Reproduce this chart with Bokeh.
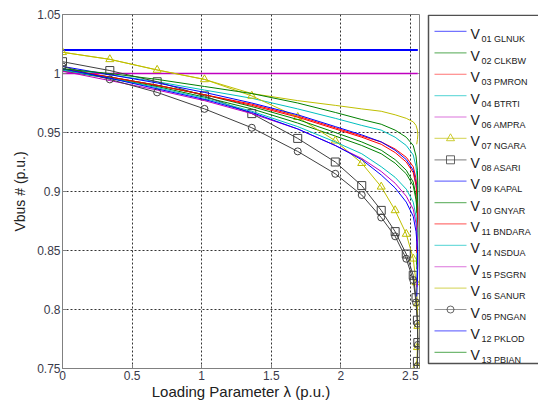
from bokeh.plotting import figure
from bokeh.models import Range1d, FixedTicker, CustomJSTickFormatter
from bokeh.layouts import row
from bokeh.embed import file_html
from bokeh.resources import INLINE
from bokeh.core.properties import value

# Loading parameter steps (continuation power flow)
lam = [0, 0.34, 0.68, 1.02, 1.36, 1.69, 1.96, 2.15, 2.29, 2.39, 2.47, 2.52, 2.54, 2.55, 2.553, 2.55, 2.545]

v01_glnuk = [1.02, 1.02, 1.02, 1.02, 1.02, 1.02, 1.02, 1.02, 1.02, 1.02, 1.02, 1.02, 1.02, 1.02, 1.02, 1.02, 1.02]
v02_clkbw = [1.002, 0.996, 0.989, 0.980, 0.970, 0.958, 0.947, 0.939, 0.932, 0.924, 0.915, 0.905, 0.893, 0.879, 0.863, 0.848, 0.834]
v03_pmron = [1.003, 0.997, 0.990, 0.982, 0.974, 0.964, 0.954, 0.947, 0.942, 0.936, 0.929, 0.921, 0.911, 0.899, 0.885, 0.871, 0.858]
v04_btrti = [1.004, 0.999, 0.993, 0.986, 0.979, 0.970, 0.962, 0.956, 0.952, 0.946, 0.939, 0.931, 0.921, 0.909, 0.895, 0.882, 0.870]
v06_ampra = [1.0, 1.0, 1.0, 1.0, 1.0, 1.0, 1.0, 1.0, 1.0, 1.0, 1.0, 1.0, 1.0, 1.0, 1.0, 1.0, 1.0]
v07_ngara = [1.018, 1.012, 1.003, 0.995, 0.981, 0.963, 0.943, 0.924, 0.904, 0.884, 0.864, 0.843, 0.823, 0.805, 0.786, 0.768, 0.752]
v08_asari = [1.010, 1.0025, 0.993, 0.981, 0.966, 0.945, 0.925, 0.905, 0.884, 0.866, 0.847, 0.829, 0.810, 0.791, 0.772, 0.756, 0.740]
v09_kapal = [1.006, 0.999, 0.992, 0.984, 0.975, 0.965, 0.955, 0.948, 0.942, 0.935, 0.927, 0.918, 0.907, 0.894, 0.879, 0.865, 0.851]
v10_gnyar = [1.003, 0.997, 0.990, 0.982, 0.972, 0.961, 0.950, 0.942, 0.935, 0.927, 0.918, 0.908, 0.896, 0.882, 0.867, 0.852, 0.838]
v11_bndara = [1.004, 0.997, 0.990, 0.982, 0.973, 0.963, 0.953, 0.946, 0.940, 0.933, 0.925, 0.916, 0.905, 0.892, 0.877, 0.862, 0.848]
v14_nsdua = [1.003, 0.996, 0.988, 0.979, 0.968, 0.955, 0.942, 0.932, 0.921, 0.912, 0.902, 0.891, 0.879, 0.866, 0.851, 0.837, 0.824]
v15_psgrn = [1.002, 0.994, 0.986, 0.977, 0.966, 0.953, 0.939, 0.928, 0.917, 0.907, 0.896, 0.885, 0.873, 0.860, 0.846, 0.832, 0.819]
v16_sanur = [1.018, 1.012, 1.003, 0.995, 0.983, 0.977, 0.973, 0.970, 0.968, 0.965, 0.962, 0.959, 0.956, 0.952, 0.948, 0.944, 0.940]
v05_pngan = [1.006, 0.995, 0.984, 0.970, 0.954, 0.934, 0.915, 0.897, 0.878, 0.862, 0.843, 0.825, 0.806, 0.788, 0.770, 0.752, 0.735]
v12_pklod = [1.004, 0.996, 0.987, 0.978, 0.967, 0.953, 0.939, 0.927, 0.914, 0.903, 0.891, 0.879, 0.866, 0.852, 0.838, 0.824, 0.811]
v13_pbian = [1.004, 1.000, 0.995, 0.989, 0.983, 0.975, 0.967, 0.961, 0.957, 0.952, 0.946, 0.939, 0.930, 0.918, 0.905, 0.893, 0.882]

bus_labels = ["01 GLNUK", "02 CLKBW", "03 PMRON", "04 BTRTI", "06 AMPRA", "07 NGARA",
              "08 ASARI", "09 KAPAL", "10 GNYAR", "11 BNDARA", "14 NSDUA", "15 PSGRN",
              "16 SANUR", "05 PNGAN", "12 PKLOD", "13 PBIAN"]
bus_values = [v01_glnuk, v02_clkbw, v03_pmron, v04_btrti, v06_ampra, v07_ngara,
              v08_asari, v09_kapal, v10_gnyar, v11_bndara, v14_nsdua, v15_psgrn,
              v16_sanur, v05_pngan, v12_pklod, v13_pbian]

x_ticks = [0, 0.5, 1, 1.5, 2, 2.5]
y_ticks = [0.75, 0.8, 0.85, 0.9, 0.95, 1.0, 1.05]

# MATLAB default colour order
BLUE, GREEN, RED, CYAN, MAG, YEL, DARK = "#0000ff", "#008000", "#ff0000", "#00bfbf", "#bf00bf", "#bfbf00", "#404040"
colors = [BLUE, GREEN, RED, CYAN, MAG, YEL, DARK, BLUE, GREEN, RED, CYAN, MAG, YEL, DARK, BLUE, GREEN]
markers = [None, None, None, None, None, "triangle", "square", None, None, None, None, None, None, "circle", None, None]
widths = [2, 1, 1, 1, 1.5, 1, 1, 1, 1, 1, 1, 1, 1, 1, 1, 1]

FONT = "Liberation Sans"
TOP, BOTTOM = 14, 33   # borders shared by both panels (their frames get aligned)

p = figure(width=423, height=402, x_range=Range1d(0, 2.565), y_range=Range1d(0.75, 1.05),
           output_backend="svg", toolbar_location=None, title=None,
           min_border_left=62, min_border_right=4, min_border_top=TOP, min_border_bottom=BOTTOM)

for vals, col, mk, w in zip(bus_values, colors, markers, widths):
    p.line(lam, vals, line_color=col, line_width=w)
    if mk is not None:
        p.scatter(lam, vals, marker=mk, size=8 if mk != "circle" else 7,
                  fill_color=None, line_color=col, line_width=1)

fmt = CustomJSTickFormatter(code="return String(parseFloat(tick.toFixed(2)));")
p.xaxis.ticker = FixedTicker(ticks=x_ticks)
p.yaxis.ticker = FixedTicker(ticks=y_ticks)
for ax in (p.xaxis[0], p.yaxis[0]):
    ax.formatter = fmt
    ax.major_tick_in = 4
    ax.major_tick_out = 0
    ax.minor_tick_line_color = None
    ax.axis_line_color = "#808080"
    ax.major_tick_line_color = "#808080"
    ax.major_label_text_font = FONT
    ax.major_label_text_font_size = "12px"
    ax.major_label_text_color = "#3a3a4a"
    ax.axis_label_text_font = FONT
    ax.axis_label_text_font_style = "normal"
    ax.axis_label_text_color = "#202020"
    ax.major_label_standoff = 2
    ax.axis_label_standoff = 0

p.xaxis.axis_label = "Loading Parameter λ (p.u.)"
p.yaxis.axis_label = "Vbus # (p.u.)"
p.xaxis.axis_label_text_font_size = "15px"
p.yaxis.axis_label_text_font_size = "14px"
p.yaxis.axis_label_standoff = 6

p.grid.grid_line_color = "#333333"
p.grid.grid_line_dash = "2 2"
p.grid.grid_line_width = 1
p.outline_line_color = "#808080"
p.outline_line_width = 1
p.background_fill_color = "white"

# Legend panel, in page-pixel coordinates (custom so bus numbers can be subscripts)
n = len(bus_labels)
row_y = [31 + 21.45 * i for i in range(n)]
leg = figure(width=115, height=402, x_range=Range1d(423, 538), y_range=Range1d(402 - BOTTOM, TOP),
             output_backend="svg", toolbar_location=None, title=None,
             x_axis_location=None, y_axis_location=None,
             min_border_left=0, min_border_right=0, min_border_top=TOP, min_border_bottom=BOTTOM)
leg.grid.visible = False
leg.outline_line_color = None

leg.quad(left=[428], right=[545], top=[14.8], bottom=[364],
         fill_color=None, line_color="#505050", line_width=1.5)
leg.segment(x0=[434] * n, y0=row_y, x1=[466] * n, y1=row_y, line_color=colors,
            line_width=1.2, line_alpha=0.55)
for yy, col, mk in zip(row_y, colors, markers):
    if mk is not None:
        leg.scatter([450], [yy], marker=mk, size=8 if mk != "circle" else 7,
                    fill_color=None, line_color=col, line_width=1, line_alpha=0.8)
leg.text(x=[470] * n, y=[yy + 3 for yy in row_y], text=["V"] * n,
         text_font=value(FONT), text_font_size="14px", text_color="#202020",
         text_baseline="alphabetic")
leg.text(x=[481] * n, y=[yy + 8 for yy in row_y], text=bus_labels,
         text_font=value(FONT), text_font_size="9px", text_color="#202020",
         text_baseline="alphabetic")

layout = row(p, leg)
open("out.html", "w").write(file_html(layout, INLINE))
